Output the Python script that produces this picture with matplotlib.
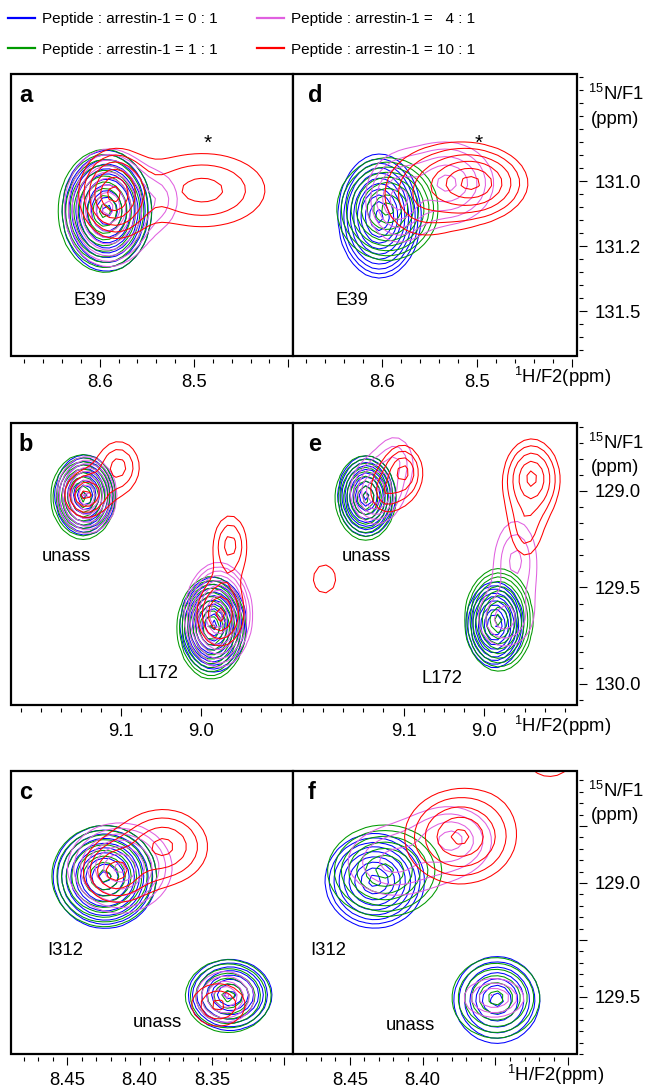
import numpy as np
import matplotlib.pyplot as plt
from matplotlib.lines import Line2D
from matplotlib.patches import Rectangle
from matplotlib.ticker import MultipleLocator

plt.rcParams['font.family'] = ['Liberation Sans', 'DejaVu Sans']
plt.rcParams['mathtext.fontset'] = 'custom'
plt.rcParams['mathtext.rm'] = 'Liberation Sans'
plt.rcParams['mathtext.it'] = 'Liberation Sans'

# titration points (legend) and their colours
ratios = ['0 : 1', '1 : 1', '  4 : 1', '10 : 1']
colors = ['#0000ff', '#009a00', '#e060e0', '#ff0000']

# cross peaks:
# series index, 1H (ppm), 15N (ppm), outer half width 1H, outer half width 15N, contour levels
peaks_a = [
    (0, 8.5924, 131.092, 0.047, 0.185, 10.6),
    (1, 8.5945, 131.092, 0.049, 0.188, 9.6),
    (2, 8.5914, 131.083, 0.0455, 0.178, 8.6),
    (2, 8.537, 131.058, 0.018, 0.070, 1.5),
    (3, 8.585, 131.040, 0.034, 0.125, 5.5),
    (3, 8.4908, 131.028, 0.066, 0.112, 2.6),
]
peaks_d = [
    (0, 8.603, 131.108, 0.0434, 0.190, 10.6),
    (1, 8.5945, 131.086, 0.053, 0.157, 8.6),
    (2, 8.584, 131.058, 0.032, 0.123, 4.5),
    (2, 8.531, 131.006, 0.048, 0.123, 4.5),
    (3, 8.5067, 131.006, 0.058, 0.112, 5.4),
    (3, 8.560, 131.058, 0.030, 0.090, 1.3),
]
peaks_b = [
    (0, 9.1447, 129.021, 0.037, 0.207, 9.6),
    (1, 9.147, 129.031, 0.0398, 0.218, 9.6),
    (2, 9.1422, 129.021, 0.037, 0.197, 8.6),
    (3, 9.144, 129.021, 0.025, 0.110, 3.4),
    (3, 9.1025, 128.876, 0.025, 0.130, 2.6),
    (0, 8.9845, 129.694, 0.041, 0.244, 10.6),
    (1, 8.987, 129.710, 0.042, 0.264, 10.6),
    (2, 8.978, 129.642, 0.042, 0.270, 9.6),
    (3, 8.976, 129.642, 0.028, 0.160, 3.4),
    (3, 8.9634, 129.280, 0.020, 0.150, 2.6),
]
peaks_e = [
    (0, 9.146, 129.026, 0.035, 0.207, 9.6),
    (1, 9.147, 129.036, 0.037, 0.218, 8.6),
    (2, 9.1348, 129.005, 0.030, 0.160, 5.4),
    (2, 9.110, 128.850, 0.020, 0.120, 2.0),
    (3, 9.100, 128.902, 0.022, 0.130, 3.4),
    (3, 9.1224, 129.005, 0.015, 0.080, 1.5),
    (3, 9.198, 129.456, 0.0137, 0.0725, 0.8),
    (0, 8.987, 129.694, 0.035, 0.220, 9.6),
    (1, 8.982, 129.668, 0.042, 0.264, 9.6),
    (2, 8.976, 129.668, 0.028, 0.120, 2.4),
    (2, 8.961, 129.358, 0.025, 0.200, 2.4),
    (3, 8.941, 128.933, 0.0335, 0.197, 4.4),
    (3, 8.9485, 129.202, 0.015, 0.120, 1.5),
]
peaks_c = [
    (0, 8.424, 128.974, 0.0355, 0.224, 9.6),
    (1, 8.4245, 128.970, 0.036, 0.220, 8.6),
    (2, 8.4138, 128.934, 0.036, 0.197, 6.4),
    (3, 8.4173, 128.952, 0.020, 0.120, 3.4),
    (3, 8.3832, 128.840, 0.030, 0.160, 3.4),
    (0, 8.3375, 129.491, 0.0287, 0.154, 7.6),
    (1, 8.3388, 129.496, 0.0294, 0.158, 6.6),
    (2, 8.3409, 129.500, 0.020, 0.110, 4.4),
    (3, 8.3456, 129.535, 0.0184, 0.092, 2.4),
]
peaks_f = [
    (0, 8.4329, 128.991, 0.034, 0.206, 8.6),
    (1, 8.4261, 128.947, 0.039, 0.200, 6.6),
    (2, 8.3797, 128.811, 0.025, 0.130, 3.4),
    (2, 8.4207, 128.908, 0.030, 0.140, 2.4),
    (3, 8.3743, 128.798, 0.038, 0.206, 4.4),
    (3, 8.3115, 128.470, 0.012, 0.055, 0.8),
    (0, 8.349, 129.513, 0.0293, 0.189, 6.6),
    (1, 8.3497, 129.504, 0.030, 0.175, 5.6),
    (2, 8.351, 129.504, 0.0205, 0.083, 3.4),
]

# residue labels: (text, 1H, 15N)
labels_a = [('E39', 8.610, 131.366), ('*', 8.4855, 130.885)]
labels_d = [('E39', 8.6316, 131.366), ('*', 8.4982, 130.885)]
labels_b = [('unass', 9.168, 129.342), ('L172', 9.054, 129.948)]
labels_e = [('unass', 9.146, 129.342), ('L172', 9.0528, 129.974)]
labels_c = [('I312', 8.4514, 129.294), ('unass', 8.388, 129.610)]
labels_f = [('I312', 8.465, 129.294), ('unass', 8.4084, 129.623)]

# axis ranges and ticks for each row
xlim_rows = [(8.694, 8.395), (9.237, 8.885), (8.489, 8.294)]
ylim_rows = [(131.538, 130.671), (130.109, 128.648), (129.750, 128.509)]
xminor_rows = [0.02, 0.025, 0.01]
yminor_rows = [0.04, 0.5 / 6, 0.05]
xticks_rows = [[8.6, 8.5, 8.4], [9.1, 9.0], [8.45, 8.40, 8.35, 8.30]]
xticklabels_left = [['8.6', '8.5', ''], ['9.1', '9.0'], ['8.45', '8.40', '8.35', '']]
xticklabels_right = [['8.6', '8.5', ''], ['9.1', '9.0'], ['8.45', '8.40', '', '']]
yticks_rows = [[131.0, 131.2, 131.4], [129.0, 129.5, 130.0], [128.75, 129.0, 129.25, 129.5]]
yticklabels_rows = [['131.0', '131.2', '131.5'], ['129.0', '129.5', '130.0'],
                    ['', '129.0', '', '129.5']]

STEP = 1.5    # ratio between contour levels
SHAPE = 1.3   # peak shape exponent

W, H = 649, 1088
fig = plt.figure(figsize=(W / 100, H / 100), dpi=100)

row_px = [(74, 356), (423, 705), (771, 1054)]
col_px = [(11, 293), (293, 577)]
f2_label_x = [514, 514, 507]
panels = [[(peaks_a, labels_a, 'a'), (peaks_d, labels_d, 'd')],
          [(peaks_b, labels_b, 'b'), (peaks_e, labels_e, 'e')],
          [(peaks_c, labels_c, 'c'), (peaks_f, labels_f, 'f')]]


def draw_spectrum(ax, peaks, xlim, ylim):
    # coarse grid, like the digital resolution of the spectra
    xs = np.linspace(xlim[0], xlim[1], 44)
    ys = np.linspace(ylim[0], ylim[1], 44)
    X, Y = np.meshgrid(xs, ys)
    levels = STEP ** np.arange(16)
    for s in range(4):
        Z = np.zeros_like(X)
        for k, x0, y0, wx, wy, h in peaks:
            if k != s:
                continue
            rho = np.hypot((X - x0) / wx, (Y - y0) / wy)
            Z += STEP ** (h * (1 - rho ** SHAPE))
        if Z.max() > 1:
            ax.contour(X, Y, Z, levels=levels, colors=colors[s], linewidths=0.75)


for r, (top, bot) in enumerate(row_px):
    for c, (left, right) in enumerate(col_px):
        peaks, labels, letter = panels[r][c]
        ax = fig.add_axes([left / W, 1 - bot / H, (right - left) / W, (bot - top) / H])
        draw_spectrum(ax, peaks, xlim_rows[r], ylim_rows[r])
        ax.set_xlim(*xlim_rows[r])
        ax.set_ylim(*ylim_rows[r])

        for t, x, y in labels:
            ax.text(x, y, t, fontsize=15 if t == '*' else 13.3, ha='center', va='center')
        ax.text(0.028 if c == 0 else 0.052, 0.925, letter, transform=ax.transAxes,
                fontsize=17, fontweight='bold', ha='left', va='center')

        # box drawn separately so the ticks can sit just outside it
        for sp in ax.spines.values():
            sp.set_visible(False)
        ax.add_patch(Rectangle((0, 0), 1, 1, transform=ax.transAxes, fill=False,
                               lw=1.6, ec='black', clip_on=False, zorder=5))
        ax.spines['bottom'].set_position(('outward', 2.5))
        ax.set_xticks(xticks_rows[r])
        ax.set_xticklabels(xticklabels_left[r] if c == 0 else xticklabels_right[r])
        ax.xaxis.set_minor_locator(MultipleLocator(xminor_rows[r]))
        ax.tick_params(axis='x', which='major', length=5.5, width=0.8, pad=5, labelsize=13.3)
        ax.tick_params(axis='x', which='minor', length=3, width=0.8)

        if c == 0:
            ax.set_yticks([])
        else:
            ax.yaxis.tick_right()
            ax.spines['right'].set_position(('outward', 1.5))
            ax.set_yticks(yticks_rows[r])
            ax.set_yticklabels(yticklabels_rows[r])
            ax.yaxis.set_minor_locator(MultipleLocator(yminor_rows[r]))
            ax.tick_params(axis='y', which='major', length=5.5, width=0.8, pad=6, labelsize=13.3)
            ax.tick_params(axis='y', which='minor', length=3, width=0.8)

    fig.text(588 / W, 1 - (top + 20) / H, r'$^{15}$N/F1', fontsize=13.3, va='center')
    fig.text(591 / W, 1 - (top + 45) / H, '(ppm)', fontsize=13.3, va='center')
    fig.text(f2_label_x[r] / W, 1 - (bot + 21) / H, r'$^{1}$H/F2(ppm)', fontsize=13.3,
             va='center')

handles = [Line2D([], [], color=col, lw=1.6) for col in colors]
names = ['Peptide : arrestin-1 = ' + rt for rt in ratios]
fig.legend(handles, names, loc='upper left', bbox_to_anchor=(8 / W, 1 - 12 / H), ncol=2,
           frameon=False, fontsize=11, handlelength=1.75, handletextpad=0.45,
           columnspacing=2.63, labelspacing=1.1, borderaxespad=0, borderpad=0)

fig.savefig('out.png', dpi=100)
